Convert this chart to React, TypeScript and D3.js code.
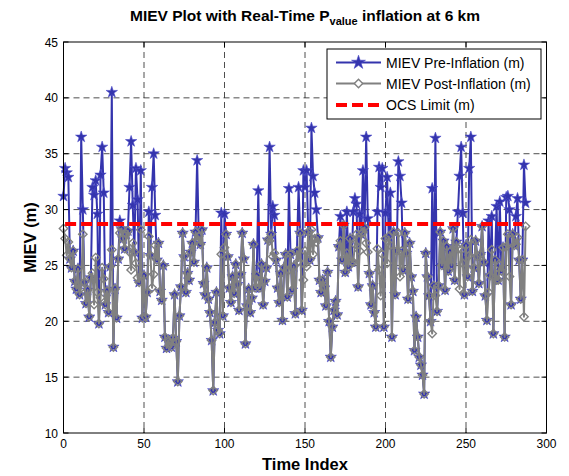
import React from 'react';
import * as d3 from 'd3';

const preInflation = [
  31.2, 33.7, 33.3, 32.9, 25.6, 24.8, 26.3, 23.6, 22.9, 24.7,
  22.4, 36.5, 30.0, 23.5, 21.6, 22.8, 20.4, 23.9, 32.0, 31.3,
  32.6, 29.6, 19.8, 33.1, 35.6, 31.5, 21.5, 22.7, 20.8, 24.9,
  40.5, 17.7, 22.9, 20.3, 25.6, 29.0, 28.3, 27.4, 26.5, 27.8,
  28.1, 32.0, 36.1, 30.4, 26.2, 33.7, 30.9, 23.5, 33.5, 20.3,
  24.1, 20.4, 22.6, 29.8, 25.9, 32.0, 35.0, 29.5, 25.5, 27.0,
  22.7, 21.9, 25.0, 18.6, 17.6, 18.3, 18.0, 17.7, 18.5, 22.4,
  18.2, 14.6, 20.5, 23.1, 27.9, 25.8, 22.6, 24.3, 23.7, 26.2,
  27.0, 25.3, 28.0, 34.4, 27.6, 26.9, 28.2, 23.4, 22.4, 24.8,
  22.0, 20.8, 18.3, 13.8, 19.9, 22.6, 19.2, 18.9, 29.7, 20.5,
  29.6, 27.8, 25.8, 23.0, 21.7, 24.0, 22.5, 25.1, 23.3, 21.0,
  24.2, 27.9, 25.6, 18.0, 21.4, 22.9, 20.8, 22.1, 26.9, 23.0,
  24.1, 31.7, 23.0, 25.1, 21.5, 23.6, 24.8, 27.3, 35.6, 27.8,
  30.3, 29.5, 25.5, 23.0, 21.7, 24.3, 20.1, 24.8, 26.0, 22.2,
  31.9, 26.0, 22.8, 24.9, 20.7, 26.3, 32.0, 27.9, 21.0, 33.5,
  32.0, 33.5, 28.0, 25.5, 37.3, 33.0, 31.5, 30.0, 27.5, 23.7,
  22.6, 23.7, 23.0, 21.4, 24.4, 20.0, 16.8, 19.5, 21.0, 21.8,
  20.6, 26.7, 29.4, 25.5, 28.6, 24.4, 29.8, 24.9, 27.4, 25.3,
  29.8, 31.0, 30.5, 23.1, 29.6, 27.8, 33.5, 28.4, 36.5, 29.2,
  24.3, 21.5, 23.2, 20.8, 19.5, 29.8, 33.8, 32.0, 33.7, 19.5,
  29.7, 32.9, 27.6, 31.5, 18.6, 28.0, 22.4, 26.3, 34.3, 33.0,
  30.6, 24.6, 27.9, 26.1, 22.0, 27.0, 24.0, 22.7, 17.4, 20.4,
  18.6, 16.8, 16.1, 15.2, 13.5, 26.1, 24.0, 22.3, 20.0, 31.9,
  23.2, 36.4, 20.9, 23.2, 28.0, 25.0, 27.2, 22.8, 26.7, 24.5,
  26.2, 25.0, 28.3, 23.7, 27.1, 29.8, 33.0, 35.6, 29.7, 22.4,
  26.8, 24.0, 33.7, 36.5, 22.7, 24.8, 27.2, 25.8, 23.4, 26.0,
  28.5, 25.3, 22.3, 20.1, 29.0, 24.1, 29.4, 18.9, 25.5, 30.3,
  23.7, 30.7, 24.5, 26.6, 18.6, 31.1, 31.2, 30.0, 21.5, 27.8,
  26.8, 29.4, 31.0, 25.5, 22.0, 25.5, 34.0, 30.6,
];

const postInflation = [
  28.3, 27.4, 25.9, 27.1, 25.6, 24.8, 26.3, 23.6, 22.9, 24.7,
  22.4, 23.0, 27.8, 23.5, 21.6, 22.8, 20.4, 23.9, 24.3, 21.5,
  25.7, 22.6, 19.8, 22.1, 24.8, 23.8, 21.5, 22.7, 20.8, 24.9,
  26.4, 17.7, 22.9, 20.3, 25.6, 27.9, 28.3, 27.4, 26.5, 27.8,
  28.1, 26.2, 24.6, 27.0, 26.2, 25.2, 23.9, 23.5, 28.2, 20.3,
  24.1, 20.4, 22.6, 27.6, 25.9, 23.0, 24.2, 26.8, 25.5, 27.0,
  22.7, 21.9, 25.0, 18.6, 17.6, 18.3, 18.0, 17.7, 18.5, 22.4,
  18.2, 14.6, 20.5, 23.1, 27.9, 25.8, 22.6, 24.3, 23.7, 26.2,
  27.0, 25.3, 28.0, 27.3, 27.6, 26.9, 28.2, 23.4, 22.4, 24.8,
  22.0, 20.8, 18.3, 13.8, 19.9, 22.6, 19.2, 18.9, 26.0, 20.5,
  26.6, 27.8, 25.8, 23.0, 21.7, 24.0, 22.5, 25.1, 23.3, 21.0,
  24.2, 27.9, 25.6, 18.0, 21.4, 22.9, 20.8, 22.1, 26.9, 23.0,
  24.1, 23.6, 23.0, 25.1, 21.5, 23.6, 24.8, 27.3, 27.2, 27.8,
  25.8, 26.1, 25.5, 23.0, 21.7, 24.3, 20.1, 24.8, 26.0, 22.2,
  24.6, 26.0, 22.8, 24.9, 20.7, 26.3, 25.4, 27.9, 21.0, 23.7,
  26.3, 24.9, 28.0, 25.5, 28.2, 26.0, 27.4, 27.1, 27.5, 23.7,
  22.6, 23.7, 23.0, 21.4, 24.4, 20.0, 16.8, 19.5, 21.0, 21.8,
  20.6, 26.7, 27.2, 25.5, 28.6, 24.4, 26.1, 24.9, 27.4, 25.3,
  25.3, 26.9, 27.8, 23.1, 26.3, 27.8, 28.0, 28.4, 27.0, 26.2,
  24.3, 21.5, 23.2, 20.8, 19.5, 26.5, 24.6, 22.3, 26.0, 19.5,
  27.4, 25.2, 27.6, 26.8, 18.6, 28.0, 22.4, 26.3, 27.9, 24.0,
  26.3, 24.6, 27.9, 26.1, 22.0, 27.0, 24.0, 22.7, 17.4, 20.4,
  18.6, 16.8, 16.1, 15.2, 13.5, 26.1, 24.0, 22.3, 20.0, 18.9,
  23.2, 22.3, 20.9, 23.2, 28.0, 25.0, 27.2, 22.8, 26.7, 24.5,
  26.2, 25.0, 28.3, 23.7, 27.1, 26.5, 22.9, 26.4, 25.2, 22.4,
  26.8, 24.0, 25.9, 27.3, 22.7, 24.8, 27.2, 25.8, 23.4, 26.0,
  28.5, 25.3, 22.3, 20.1, 22.6, 24.1, 26.4, 18.9, 25.5, 23.7,
  23.7, 25.0, 24.5, 26.6, 18.6, 26.7, 27.8, 24.0, 21.5, 27.8,
  26.8, 26.9, 27.5, 25.5, 22.0, 25.5, 20.4, 28.5,
];

const ocsLimit = 28.7;
const limitRange = [1, 285];
const xTicks = [0, 50, 100, 150, 200, 250, 300];
const yTicks = [10, 15, 20, 25, 30, 35, 40, 45];
const legendLabels = ['MIEV Pre-Inflation (m)', 'MIEV Post-Inflation (m)', 'OCS Limit (m)'];

const BLUE = '#3434ad';
const GRAY = '#808080';
const RED = '#ff0000';
const FONT = 'Arial, "Liberation Sans", Helvetica, sans-serif';

const starPath = d3.symbol().type(d3.symbolStar).size(40)() as string;
const diamondPath = 'M0,-4.2L4.2,0L0,4.2L-4.2,0Z';

export default function App() {
  const left = 63.5, right = 546.5, top = 42, bottom = 433;
  const x = d3.scaleLinear().domain([0, 300]).range([left, right]);
  const y = d3.scaleLinear().domain([10, 45]).range([bottom, top]);
  const line = d3.line<number>().x((_, i) => x(i)).y((d) => y(d));
  const tk = 5;

  const lx = 327, ly = 49, lw = 214, lh = 70;
  const rows = [62.5, 83.5, 105];

  return (
    <svg width={569} height={476} style={{ position: 'absolute', left: 0, top: 0, background: '#fff' }} fontFamily={FONT}>
      <rect x={0} y={0} width={569} height={476} fill="#fff" />
      {/* grid */}
      {xTicks.slice(1, -1).map((t) => (
        <line key={'gx' + t} x1={x(t)} x2={x(t)} y1={top} y2={bottom} stroke="#222" strokeWidth={0.8} strokeDasharray="6,4" />
      ))}
      {yTicks.slice(1, -1).map((t) => (
        <line key={'gy' + t} x1={left} x2={right} y1={y(t)} y2={y(t)} stroke="#222" strokeWidth={0.8} strokeDasharray="6,4" />
      ))}
      {/* pre-inflation */}
      <path d={line(preInflation) as string} fill="none" stroke={BLUE} strokeWidth={2} strokeLinejoin="round" />
      {preInflation.map((v, i) => (
        <path key={'s' + i} d={starPath} transform={`translate(${x(i)},${y(v)})`} fill={BLUE} stroke="#4a4ac8" strokeWidth={0.6} />
      ))}
      {/* post-inflation */}
      <path d={line(postInflation) as string} fill="none" stroke={GRAY} strokeWidth={2} strokeLinejoin="round" />
      {postInflation.map((v, i) => (
        <path key={'d' + i} d={diamondPath} transform={`translate(${x(i)},${y(v)})`} fill="none" stroke={GRAY} strokeWidth={1.4} />
      ))}
      {/* OCS limit */}
      <line x1={x(limitRange[0])} x2={x(limitRange[1])} y1={y(ocsLimit)} y2={y(ocsLimit)} stroke={RED} strokeWidth={4} strokeDasharray="11,5" />
      {/* axes box */}
      <rect x={left} y={top} width={right - left} height={bottom - top} fill="none" stroke="#000" strokeWidth={1} />
      {xTicks.map((t) => (
        <g key={'xt' + t}>
          <line x1={x(t)} x2={x(t)} y1={bottom} y2={bottom - tk} stroke="#000" />
          <line x1={x(t)} x2={x(t)} y1={top} y2={top + tk} stroke="#000" />
          <text x={x(t)} y={448} textAnchor="middle" fontSize={12} fill="#000">{t}</text>
        </g>
      ))}
      {yTicks.map((t) => (
        <g key={'yt' + t}>
          <line x1={left} x2={left + tk} y1={y(t)} y2={y(t)} stroke="#000" />
          <line x1={right} x2={right - tk} y1={y(t)} y2={y(t)} stroke="#000" />
          <text x={58} y={y(t) + 4.5} textAnchor="end" fontSize={12} fill="#000">{t}</text>
        </g>
      ))}
      {/* title */}
      <text x={305} y={21} textAnchor="middle" fontSize={15.5} fontWeight="bold" fill="#000">
        MIEV Plot with Real-Time P<tspan fontSize={11} dy={4}>value</tspan><tspan dy={-4}> inflation at 6 km</tspan>
      </text>
      {/* axis labels */}
      <text x={305} y={470} textAnchor="middle" fontSize={16.5} fontWeight="bold" fill="#000">Time Index</text>
      <text transform={`translate(36,${(top + bottom) / 2}) rotate(-90)`} textAnchor="middle" fontSize={16.5} fontWeight="bold" fill="#000">MIEV (m)</text>
      {/* legend */}
      <rect x={lx} y={ly} width={lw} height={lh} fill="#fff" stroke="#000" strokeWidth={1} />
      <line x1={336} x2={381} y1={rows[0]} y2={rows[0]} stroke={BLUE} strokeWidth={2} />
      <path d={d3.symbol().type(d3.symbolStar).size(60)() as string} transform={`translate(358.5,${rows[0]})`} fill={BLUE} stroke="#4a4ac8" strokeWidth={0.6} />
      <line x1={336} x2={381} y1={rows[1]} y2={rows[1]} stroke={GRAY} strokeWidth={2} />
      <path d={diamondPath} transform={`translate(358.5,${rows[1]})`} fill="#fff" stroke={GRAY} strokeWidth={1.4} />
      <line x1={336} x2={381} y1={rows[2]} y2={rows[2]} stroke={RED} strokeWidth={4} strokeDasharray="11,5" />
      {legendLabels.map((l, i) => (
        <text key={l} x={386} y={rows[i] + 5} fontSize={14} fill="#000">{l}</text>
      ))}
    </svg>
  );
}
